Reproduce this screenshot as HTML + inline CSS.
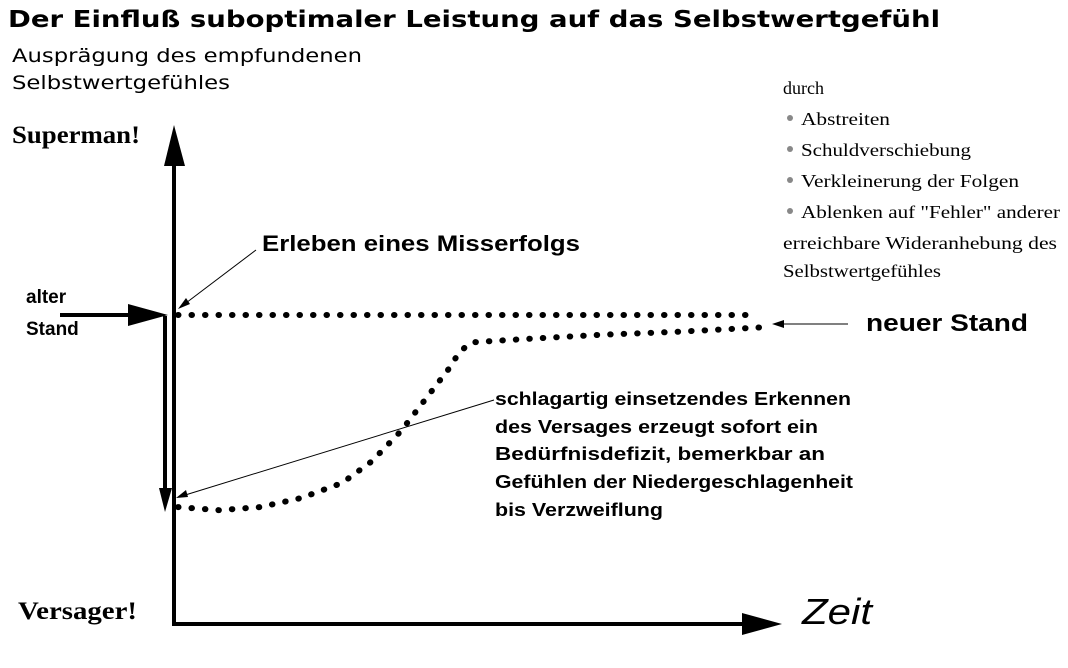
<!DOCTYPE html>
<html><head><meta charset="utf-8"><style>
body{margin:0;background:#fff;}
svg{display:block;}
.b{font-family:"Liberation Sans",sans-serif;font-weight:bold;fill:#000;}
.s{font-family:"Liberation Serif",serif;fill:#000;}
</style></head><body>
<svg width="1068" height="668" viewBox="0 0 1068 668">
<text x="8" y="27" font-size="23" font-weight="bold" font-family="DejaVu Sans,sans-serif" textLength="932" lengthAdjust="spacingAndGlyphs">Der Einfluß suboptimaler Leistung auf das Selbstwertgefühl</text>
<text x="12" y="62" font-size="19" font-family="DejaVu Sans,sans-serif" textLength="350" lengthAdjust="spacingAndGlyphs">Ausprägung des empfundenen</text>
<text x="12" y="89" font-size="19" font-family="DejaVu Sans,sans-serif" textLength="218" lengthAdjust="spacingAndGlyphs">Selbstwertgefühles</text>
<text class="s" x="12" y="143" font-size="25" font-weight="bold" textLength="128" lengthAdjust="spacingAndGlyphs">Superman!</text>
<text class="s" x="18" y="619" font-size="25" font-weight="bold" textLength="119" lengthAdjust="spacingAndGlyphs">Versager!</text>
<text x="802" y="624" font-size="36" font-style="italic" font-family="Liberation Sans,sans-serif" textLength="70" lengthAdjust="spacingAndGlyphs">Zeit</text>

<g>
<line x1="174" y1="160" x2="174" y2="626" stroke="#000" stroke-width="4"/>
<polygon points="174,125 164,166 185,166" fill="#000"/>
</g>
<g>
<line x1="174" y1="624" x2="745" y2="624" stroke="#000" stroke-width="4"/>
<polygon points="782,624 742,613 742,635" fill="#000"/>
</g>
<g>
<line x1="165" y1="316" x2="165" y2="490" stroke="#000" stroke-width="4"/>
<polygon points="165,512 159,488 172,488" fill="#000"/>
</g>
<g>
<line x1="60" y1="315" x2="130" y2="315" stroke="#000" stroke-width="4"/>
<polygon points="168,315 128,304 128,326" fill="#000"/>
</g>
<text class="b" x="26" y="303" font-size="19">alter</text>
<text class="b" x="26" y="335" font-size="19">Stand</text>

<text class="b" x="262" y="251" font-size="22" textLength="318" lengthAdjust="spacingAndGlyphs">Erleben eines Misserfolgs</text>
<line x1="256" y1="250" x2="182" y2="306" stroke="#000" stroke-width="1"/>
<polygon points="178,309 186,298 190,304" fill="#000"/>

<text class="b" x="866" y="331" font-size="24" textLength="162" lengthAdjust="spacingAndGlyphs">neuer Stand</text>
<line x1="780" y1="324" x2="848" y2="324" stroke="#000" stroke-width="1"/>
<polygon points="772,324 784,320 784,328" fill="#000"/>

<line x1="494" y1="400" x2="182" y2="496" stroke="#000" stroke-width="1"/>
<polygon points="176,498 186,490 188,497" fill="#000"/>
<g class="b" font-size="18">
<text x="495" y="405" textLength="356" lengthAdjust="spacingAndGlyphs">schlagartig einsetzendes Erkennen</text>
<text x="495" y="433" textLength="323" lengthAdjust="spacingAndGlyphs">des Versages erzeugt sofort ein</text>
<text x="495" y="460" textLength="330" lengthAdjust="spacingAndGlyphs">Bedürfnisdefizit, bemerkbar an</text>
<text x="495" y="488" textLength="358" lengthAdjust="spacingAndGlyphs">Gefühlen der Niedergeschlagenheit</text>
<text x="495" y="516" textLength="168" lengthAdjust="spacingAndGlyphs">bis Verzweiflung</text>
</g>

<g class="s" font-size="18">
<text x="783" y="94">durch</text>
<circle cx="790" cy="118" r="3" fill="#888"/><text x="801" y="125" textLength="89" lengthAdjust="spacingAndGlyphs">Abstreiten</text>
<circle cx="790" cy="149" r="3" fill="#888"/><text x="801" y="156" textLength="170" lengthAdjust="spacingAndGlyphs">Schuldverschiebung</text>
<circle cx="790" cy="180" r="3" fill="#888"/><text x="801" y="187" textLength="218" lengthAdjust="spacingAndGlyphs">Verkleinerung der Folgen</text>
<circle cx="790" cy="211" r="3" fill="#888"/><text x="801" y="218" textLength="259" lengthAdjust="spacingAndGlyphs">Ablenken auf "Fehler" anderer</text>
<text x="783" y="249" textLength="274" lengthAdjust="spacingAndGlyphs">erreichbare Wideranhebung des</text>
<text x="783" y="277" textLength="158" lengthAdjust="spacingAndGlyphs">Selbstwertgefühles</text>
</g>

<g id="series"></g>
</svg>
<script>
// time units (0..100 along the x axis), level in % (0 = Versager, 100 = alter Stand)
const oldTimes = [0, 97];
const oldLevels = [100, 100];
const newTimes = [0, 7, 14, 21, 28, 33, 38, 42, 46, 48, 50, 58, 72, 85, 100];
const newLevels = [37, 36, 37, 40, 45, 52, 62, 72, 82, 88, 91, 92, 93.5, 94.5, 96];

function xScale(t){ return 178 + t * 5.87; }
function yScale(v){ return 620 - v * 3.05; }

function makePath(ts, vs, name){
  const p = document.createElementNS('http://www.w3.org/2000/svg','path');
  let d = '';
  for (let i = 0; i < ts.length; i++){
    d += (i ? ' L' : 'M') + xScale(ts[i]).toFixed(1) + ',' + yScale(vs[i]).toFixed(1);
  }
  p.setAttribute('d', d);
  p.setAttribute('fill','none');
  p.setAttribute('stroke','#000');
  p.setAttribute('stroke-width','6');
  p.setAttribute('stroke-linecap','round');
  p.setAttribute('stroke-linejoin','round');
  p.setAttribute('stroke-dasharray','0.5 13');
  
  
  document.getElementById('series').appendChild(p);
}
makePath(oldTimes, oldLevels, 'old-level-line');
makePath(newTimes, newLevels, 'recovery-curve');
</script>
</body></html>
